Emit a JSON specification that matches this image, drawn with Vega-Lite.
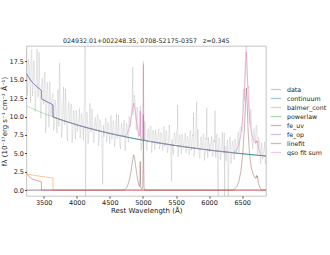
{
"$schema":"https://vega.github.io/schema/vega-lite/v6.json",
"width":239.5,"height":150,
"autosize":{"type":"none"},
"padding":{"left":26.5,"top":46,"right":64,"bottom":59},
"title":{"text":"024932.01+002248.35, 0708-52175-0357\u00a0\u00a0\u00a0z=0.345","fontSize":6.3,"font":"DejaVu Sans","fontWeight":"normal","offset":2,"color":"#222"},
"config":{
 "view":{"stroke":"#aaa","strokeWidth":0.7},
 "axis":{"labelFont":"DejaVu Sans","labelFontSize":6.5,"titleFont":"DejaVu Sans","titleFontSize":7,"titleFontWeight":"normal","tickColor":"#444","tickSize":2,"domain":false,"grid":false,"labelColor":"#222","titleColor":"#222","labelPadding":1}
},
"data":{"values":[
{"s":"data","x":3240,"y":19.25},{"s":"data","x":3260,"y":13.69},{"s":"data","x":3280,"y":16.9},{"s":"data","x":3300,"y":11.88},{"s":"data","x":3320,"y":19.14},{"s":"data","x":3340,"y":14.2},{"s":"data","x":3360,"y":17.02},{"s":"data","x":3380,"y":11.86},{"s":"data","x":3400,"y":19.2},{"s":"data","x":3420,"y":12.8},{"s":"data","x":3440,"y":14.66},{"s":"data","x":3460,"y":9.73},{"s":"data","x":3480,"y":15.27},{"s":"data","x":3500,"y":11.65},{"s":"data","x":3520,"y":16.06},{"s":"data","x":3540,"y":9.97},{"s":"data","x":3560,"y":14.12},{"s":"data","x":3580,"y":8.53},{"s":"data","x":3600,"y":13.19},{"s":"data","x":3620,"y":11.58},{"s":"data","x":3640,"y":13.15},{"s":"data","x":3660,"y":8.89},{"s":"data","x":3680,"y":11.62},{"s":"data","x":3700,"y":7.76},{"s":"data","x":3720,"y":13.7},{"s":"data","x":3740,"y":17.3},{"s":"data","x":3760,"y":12.17},{"s":"data","x":3780,"y":8.11},{"s":"data","x":3800,"y":14.05},{"s":"data","x":3820,"y":8.99},{"s":"data","x":3840,"y":10.53},{"s":"data","x":3860,"y":6.67},{"s":"data","x":3880,"y":12.01},{"s":"data","x":3900,"y":9.16},{"s":"data","x":3920,"y":11.74},{"s":"data","x":3940,"y":7.85},{"s":"data","x":3960,"y":10.51},{"s":"data","x":3980,"y":6.94},{"s":"data","x":4000,"y":9.92},{"s":"data","x":4020,"y":8.91},{"s":"data","x":4040,"y":11.1},{"s":"data","x":4060,"y":7.68},{"s":"data","x":4080,"y":9.87},{"s":"data","x":4100,"y":6.78},{"s":"data","x":4120,"y":11.53},{"s":"data","x":4126,"y":24},{"s":"data","x":4132,"y":-3},{"s":"data","x":4140,"y":8.44},{"s":"data","x":4160,"y":10.31},{"s":"data","x":4180,"y":7.07},{"s":"data","x":4200,"y":11.82},{"s":"data","x":4220,"y":7.95},{"s":"data","x":4240,"y":8.94},{"s":"data","x":4260,"y":6.43},{"s":"data","x":4280,"y":9.89},{"s":"data","x":4300,"y":8.02},{"s":"data","x":4320,"y":10.32},{"s":"data","x":4340,"y":7.15},{"s":"data","x":4360,"y":9.32},{"s":"data","x":4380,"y":6.41},{"s":"data","x":4392,"y":0.8},{"s":"data","x":4400,"y":8.84},{"s":"data","x":4420,"y":8.02},{"s":"data","x":4440,"y":9.8},{"s":"data","x":4460,"y":7.02},{"s":"data","x":4480,"y":8.8},{"s":"data","x":4500,"y":6.29},{"s":"data","x":4520,"y":10.15},{"s":"data","x":4540,"y":7.64},{"s":"data","x":4560,"y":9.16},{"s":"data","x":4580,"y":6.52},{"s":"data","x":4600,"y":10.38},{"s":"data","x":4620,"y":7.09},{"s":"data","x":4640,"y":8.09},{"s":"data","x":4660,"y":5.59},{"s":"data","x":4680,"y":9.06},{"s":"data","x":4700,"y":7.2},{"s":"data","x":4720,"y":9.57},{"s":"data","x":4740,"y":6.54},{"s":"data","x":4760,"y":8.92},{"s":"data","x":4780,"y":6.55},{"s":"data","x":4800,"y":9.69},{"s":"data","x":4820,"y":9.84},{"s":"data","x":4840,"y":12.82},{"s":"data","x":4846,"y":16.7},{"s":"data","x":4860,"y":11.02},{"s":"data","x":4880,"y":11.99},{"s":"data","x":4900,"y":8.14},{"s":"data","x":4920,"y":10.91},{"s":"data","x":4940,"y":7.6},{"s":"data","x":4955,"y":8.6},{"s":"data","x":4960,"y":11.43},{"s":"data","x":4965,"y":7.6},{"s":"data","x":4980,"y":5.99},{"s":"data","x":5000,"y":11.56},{"s":"data","x":5004,"y":12.2},{"s":"data","x":5007,"y":17.5},{"s":"data","x":5011,"y":10.8},{"s":"data","x":5015,"y":7.2},{"s":"data","x":5020,"y":6.8},{"s":"data","x":5040,"y":7.55},{"s":"data","x":5060,"y":5.42},{"s":"data","x":5080,"y":8.36},{"s":"data","x":5100,"y":6.79},{"s":"data","x":5120,"y":8.74},{"s":"data","x":5140,"y":6.07},{"s":"data","x":5160,"y":7.91},{"s":"data","x":5180,"y":5.46},{"s":"data","x":5200,"y":7.52},{"s":"data","x":5220,"y":6.83},{"s":"data","x":5240,"y":8.34},{"s":"data","x":5260,"y":6.0},{"s":"data","x":5280,"y":7.51},{"s":"data","x":5300,"y":5.39},{"s":"data","x":5320,"y":8.66},{"s":"data","x":5340,"y":6.54},{"s":"data","x":5360,"y":7.84},{"s":"data","x":5380,"y":5.61},{"s":"data","x":5400,"y":8.88},{"s":"data","x":5420,"y":6.1},{"s":"data","x":5433,"y":1.2},{"s":"data","x":5440,"y":6.95},{"s":"data","x":5460,"y":4.84},{"s":"data","x":5480,"y":7.78},{"s":"data","x":5500,"y":6.21},{"s":"data","x":5520,"y":8.17},{"s":"data","x":5525,"y":11.6},{"s":"data","x":5540,"y":5.5},{"s":"data","x":5560,"y":7.35},{"s":"data","x":5580,"y":4.9},{"s":"data","x":5600,"y":6.97},{"s":"data","x":5620,"y":6.28},{"s":"data","x":5640,"y":7.8},{"s":"data","x":5660,"y":5.46},{"s":"data","x":5680,"y":6.98},{"s":"data","x":5700,"y":4.86},{"s":"data","x":5720,"y":8.14},{"s":"data","x":5740,"y":6.02},{"s":"data","x":5760,"y":7.32},{"s":"data","x":5765,"y":10.5},{"s":"data","x":5780,"y":5.09},{"s":"data","x":5800,"y":8.37},{"s":"data","x":5812,"y":12.0},{"s":"data","x":5820,"y":5.6},{"s":"data","x":5840,"y":6.45},{"s":"data","x":5860,"y":4.34},{"s":"data","x":5880,"y":7.28},{"s":"data","x":5900,"y":5.72},{"s":"data","x":5920,"y":7.68},{"s":"data","x":5940,"y":5.02},{"s":"data","x":5960,"y":6.86},{"s":"data","x":5965,"y":11.2},{"s":"data","x":5980,"y":4.42},{"s":"data","x":6000,"y":6.49},{"s":"data","x":6020,"y":5.81},{"s":"data","x":6040,"y":7.33},{"s":"data","x":6060,"y":4.99},{"s":"data","x":6080,"y":6.51},{"s":"data","x":6090,"y":10.8},{"s":"data","x":6100,"y":4.4},{"s":"data","x":6120,"y":7.68},{"s":"data","x":6138,"y":-2},{"s":"data","x":6140,"y":5.57},{"s":"data","x":6160,"y":6.87},{"s":"data","x":6180,"y":4.65},{"s":"data","x":6200,"y":7.93},{"s":"data","x":6220,"y":5.16},{"s":"data","x":6235,"y":-2},{"s":"data","x":6240,"y":6.02},{"s":"data","x":6260,"y":3.91},{"s":"data","x":6280,"y":6.86},{"s":"data","x":6288,"y":-2},{"s":"data","x":6300,"y":5.3},{"s":"data","x":6320,"y":7.26},{"s":"data","x":6340,"y":4.6},{"s":"data","x":6360,"y":6.45},{"s":"data","x":6380,"y":4.11},{"s":"data","x":6400,"y":6.32},{"s":"data","x":6420,"y":5.78},{"s":"data","x":6440,"y":7.91},{"s":"data","x":6460,"y":6.01},{"s":"data","x":6480,"y":8.57},{"s":"data","x":6500,"y":7.97},{"s":"data","x":6520,"y":13.75},{"s":"data","x":6540,"y":14.65},{"s":"data","x":6560,"y":19.88},{"s":"data","x":6566,"y":21},{"s":"data","x":6580,"y":14.56},{"s":"data","x":6600,"y":14.14},{"s":"data","x":6620,"y":8.92},{"s":"data","x":6640,"y":8.56},{"s":"data","x":6660,"y":5.57},{"s":"data","x":6680,"y":8.39},{"s":"data","x":6700,"y":6.42},{"s":"data","x":6720,"y":8.83},{"s":"data","x":6740,"y":5.34},{"s":"data","x":6760,"y":6.61},{"s":"data","x":6780,"y":3.58},{"s":"data","x":6800,"y":5.67},{"s":"data","x":6820,"y":4.93},{"s":"data","x":6840,"y":6.59},{"s":"data","x":6860,"y":4.06},
{"s":"data","x":3250,"y":12.85},{"s":"data","x":3270,"y":17.8},{"s":"data","x":3290,"y":15.02},{"s":"data","x":3310,"y":19.01},{"s":"data","x":3330,"y":12.8},{"s":"data","x":3350,"y":17.61},{"s":"data","x":3370,"y":10.69},{"s":"data","x":3390,"y":15.53},{"s":"data","x":3410,"y":12.63},{"s":"data","x":3430,"y":18.73},{"s":"data","x":3450,"y":11.07},{"s":"data","x":3470,"y":14.3},{"s":"data","x":3490,"y":12.45},{"s":"data","x":3510,"y":15.85},{"s":"data","x":3530,"y":7.76},{"s":"data","x":3550,"y":14.67},{"s":"data","x":3570,"y":11.08},{"s":"data","x":3590,"y":14.74},{"s":"data","x":3610,"y":10.14},{"s":"data","x":3630,"y":12.78},{"s":"data","x":3650,"y":8.12},{"s":"data","x":3670,"y":12.26},{"s":"data","x":3690,"y":10.19},{"s":"data","x":3710,"y":13.53},{"s":"data","x":3730,"y":8.66},{"s":"data","x":3750,"y":12.6},{"s":"data","x":3770,"y":7.14},{"s":"data","x":3790,"y":11.08},{"s":"data","x":3810,"y":8.82},{"s":"data","x":3830,"y":13.76},{"s":"data","x":3850,"y":7.7},{"s":"data","x":3870,"y":11.24},{"s":"data","x":3890,"y":9.79},{"s":"data","x":3910,"y":11.61},{"s":"data","x":3930,"y":6.44},{"s":"data","x":3950,"y":10.86},{"s":"data","x":3970,"y":8.57},{"s":"data","x":3990,"y":10.91},{"s":"data","x":4010,"y":7.98},{"s":"data","x":4030,"y":9.68},{"s":"data","x":4050,"y":7.07},{"s":"data","x":4070,"y":10.38},{"s":"data","x":4090,"y":8.73},{"s":"data","x":4110,"y":11.4},{"s":"data","x":4150,"y":10.66},{"s":"data","x":4170,"y":6.29},{"s":"data","x":4190,"y":9.44},{"s":"data","x":4210,"y":7.85},{"s":"data","x":4230,"y":11.05},{"s":"data","x":4250,"y":7.1},{"s":"data","x":4270,"y":9.39},{"s":"data","x":4290,"y":8.44},{"s":"data","x":4310,"y":10.21},{"s":"data","x":4330,"y":6.0},{"s":"data","x":4350,"y":9.6},{"s":"data","x":4370,"y":7.73},{"s":"data","x":4410,"y":7.26},{"s":"data","x":4430,"y":8.65},{"s":"data","x":4450,"y":6.53},{"s":"data","x":4470,"y":9.21},{"s":"data","x":4490,"y":7.87},{"s":"data","x":4510,"y":10.04},{"s":"data","x":4530,"y":6.88},{"s":"data","x":4550,"y":9.44},{"s":"data","x":4570,"y":5.89},{"s":"data","x":4590,"y":8.45},{"s":"data","x":4610,"y":6.98},{"s":"data","x":4630,"y":10.19},{"s":"data","x":4650,"y":6.25},{"s":"data","x":4670,"y":8.56},{"s":"data","x":4690,"y":7.61},{"s":"data","x":4710,"y":9.43},{"s":"data","x":4730,"y":5.29},{"s":"data","x":4750,"y":9.1},{"s":"data","x":4770,"y":7.54},{"s":"data","x":4790,"y":10.05},{"s":"data","x":4810,"y":8.58},{"s":"data","x":4830,"y":11.07},{"s":"data","x":4850,"y":10.16},{"s":"data","x":4870,"y":12.95},{"s":"data","x":4890,"y":10.42},{"s":"data","x":4910,"y":11.3},{"s":"data","x":4930,"y":7.14},{"s":"data","x":4970,"y":5.41},{"s":"data","x":4990,"y":8.03},{"s":"data","x":5030,"y":9.32},{"s":"data","x":5050,"y":5.99},{"s":"data","x":5070,"y":7.94},{"s":"data","x":5090,"y":7.14},{"s":"data","x":5110,"y":8.65},{"s":"data","x":5130,"y":5.1},{"s":"data","x":5150,"y":8.15},{"s":"data","x":5170,"y":6.58},{"s":"data","x":5190,"y":8.2},{"s":"data","x":5210,"y":6.19},{"s":"data","x":5230,"y":7.37},{"s":"data","x":5250,"y":5.58},{"s":"data","x":5270,"y":7.86},{"s":"data","x":5290,"y":6.73},{"s":"data","x":5310,"y":8.57},{"s":"data","x":5330,"y":5.9},{"s":"data","x":5350,"y":8.07},{"s":"data","x":5370,"y":5.08},{"s":"data","x":5390,"y":7.25},{"s":"data","x":5410,"y":6.01},{"s":"data","x":5450,"y":5.4},{"s":"data","x":5470,"y":7.36},{"s":"data","x":5490,"y":6.56},{"s":"data","x":5510,"y":8.07},{"s":"data","x":5530,"y":4.53},{"s":"data","x":5550,"y":7.58},{"s":"data","x":5570,"y":6.02},{"s":"data","x":5590,"y":7.64},{"s":"data","x":5610,"y":5.64},{"s":"data","x":5630,"y":6.82},{"s":"data","x":5650,"y":5.04},{"s":"data","x":5670,"y":7.32},{"s":"data","x":5690,"y":6.2},{"s":"data","x":5710,"y":8.04},{"s":"data","x":5730,"y":5.38},{"s":"data","x":5750,"y":7.55},{"s":"data","x":5770,"y":4.56},{"s":"data","x":5790,"y":6.73},{"s":"data","x":5830,"y":8.23},{"s":"data","x":5850,"y":4.9},{"s":"data","x":5870,"y":6.86},{"s":"data","x":5890,"y":6.06},{"s":"data","x":5910,"y":7.58},{"s":"data","x":5930,"y":4.04},{"s":"data","x":5950,"y":7.1},{"s":"data","x":5970,"y":5.53},{"s":"data","x":5990,"y":7.16},{"s":"data","x":6010,"y":5.16},{"s":"data","x":6030,"y":6.35},{"s":"data","x":6050,"y":4.57},{"s":"data","x":6070,"y":6.85},{"s":"data","x":6110,"y":7.58},{"s":"data","x":6150,"y":7.1},{"s":"data","x":6170,"y":4.11},{"s":"data","x":6190,"y":6.29},{"s":"data","x":6210,"y":5.06},{"s":"data","x":6230,"y":7.79},{"s":"data","x":6250,"y":4.47},{"s":"data","x":6270,"y":6.43},{"s":"data","x":6310,"y":7.16},{"s":"data","x":6330,"y":3.62},{"s":"data","x":6350,"y":6.68},{"s":"data","x":6370,"y":5.17},{"s":"data","x":6390,"y":6.95},{"s":"data","x":6410,"y":4.97},{"s":"data","x":6430,"y":6.62},{"s":"data","x":6450,"y":5.13},{"s":"data","x":6470,"y":8.44},{"s":"data","x":6490,"y":8.52},{"s":"data","x":6510,"y":12.24},{"s":"data","x":6530,"y":12.14},{"s":"data","x":6550,"y":18.52},{"s":"data","x":6570,"y":16.07},{"s":"data","x":6590,"y":13.85},{"s":"data","x":6610,"y":9.51},{"s":"data","x":6630,"y":10.99},{"s":"data","x":6650,"y":6.48},{"s":"data","x":6670,"y":8.12},{"s":"data","x":6690,"y":6.86},{"s":"data","x":6710,"y":8.62},{"s":"data","x":6730,"y":4.82},{"s":"data","x":6750,"y":7.16},{"s":"data","x":6770,"y":4.91},{"s":"data","x":6790,"y":6.45},{"s":"data","x":6810,"y":4.22},{"s":"data","x":6830,"y":5.52},{"s":"data","x":6850,"y":3.59},
{"s":"continuum","x":3240,"y":15.85},{"s":"continuum","x":3260,"y":15.54},{"s":"continuum","x":3280,"y":15.25},{"s":"continuum","x":3300,"y":14.98},{"s":"continuum","x":3320,"y":14.74},{"s":"continuum","x":3340,"y":14.55},{"s":"continuum","x":3360,"y":14.37},{"s":"continuum","x":3380,"y":14.21},{"s":"continuum","x":3400,"y":14.05},{"s":"continuum","x":3420,"y":13.9},{"s":"continuum","x":3440,"y":13.76},{"s":"continuum","x":3465,"y":13.54},{"s":"continuum","x":3466,"y":12.44},{"s":"continuum","x":3500,"y":12.25},{"s":"continuum","x":3550,"y":12.02},{"s":"continuum","x":3600,"y":11.79},{"s":"continuum","x":3640,"y":11.58},{"s":"continuum","x":3641,"y":9.95},{"s":"continuum","x":3700,"y":9.76},{"s":"continuum","x":3800,"y":9.45},{"s":"continuum","x":3900,"y":9.16},{"s":"continuum","x":4000,"y":8.88},{"s":"continuum","x":4100,"y":8.62},{"s":"continuum","x":4200,"y":8.38},{"s":"continuum","x":4300,"y":8.14},{"s":"continuum","x":4400,"y":7.92},{"s":"continuum","x":4500,"y":7.71},{"s":"continuum","x":4600,"y":7.51},{"s":"continuum","x":4700,"y":7.32},{"s":"continuum","x":4800,"y":7.13},{"s":"continuum","x":4900,"y":6.96},{"s":"continuum","x":5000,"y":6.79},{"s":"continuum","x":5100,"y":6.63},{"s":"continuum","x":5200,"y":6.48},{"s":"continuum","x":5300,"y":6.33},{"s":"continuum","x":5400,"y":6.19},{"s":"continuum","x":5500,"y":6.05},{"s":"continuum","x":5600,"y":5.93},{"s":"continuum","x":5700,"y":5.8},{"s":"continuum","x":5800,"y":5.68},{"s":"continuum","x":5900,"y":5.56},{"s":"continuum","x":6000,"y":5.45},{"s":"continuum","x":6100,"y":5.34},{"s":"continuum","x":6200,"y":5.24},{"s":"continuum","x":6300,"y":5.14},{"s":"continuum","x":6400,"y":5.04},{"s":"continuum","x":6500,"y":4.95},{"s":"continuum","x":6600,"y":4.86},{"s":"continuum","x":6700,"y":4.77},{"s":"continuum","x":6800,"y":4.69},{"s":"continuum","x":6860,"y":4.64},
{"s":"powerlaw","x":3240,"y":11.45},{"s":"powerlaw","x":3300,"y":11.2},{"s":"powerlaw","x":3400,"y":10.8},{"s":"powerlaw","x":3500,"y":10.43},{"s":"powerlaw","x":3600,"y":10.09},{"s":"powerlaw","x":3700,"y":9.76},{"s":"powerlaw","x":3800,"y":9.45},{"s":"powerlaw","x":3900,"y":9.16},{"s":"powerlaw","x":4000,"y":8.88},{"s":"powerlaw","x":4100,"y":8.62},{"s":"powerlaw","x":4200,"y":8.38},{"s":"powerlaw","x":4300,"y":8.14},{"s":"powerlaw","x":4400,"y":7.92},{"s":"powerlaw","x":4500,"y":7.71},{"s":"powerlaw","x":4600,"y":7.51},{"s":"powerlaw","x":4700,"y":7.32},{"s":"powerlaw","x":4800,"y":7.13},{"s":"powerlaw","x":4900,"y":6.96},{"s":"powerlaw","x":5000,"y":6.79},{"s":"powerlaw","x":5100,"y":6.63},{"s":"powerlaw","x":5200,"y":6.48},{"s":"powerlaw","x":5300,"y":6.33},{"s":"powerlaw","x":5400,"y":6.19},{"s":"powerlaw","x":5500,"y":6.05},{"s":"powerlaw","x":5600,"y":5.93},{"s":"powerlaw","x":5700,"y":5.8},{"s":"powerlaw","x":5800,"y":5.68},{"s":"powerlaw","x":5900,"y":5.56},{"s":"powerlaw","x":6000,"y":5.45},{"s":"powerlaw","x":6100,"y":5.34},{"s":"powerlaw","x":6200,"y":5.24},{"s":"powerlaw","x":6300,"y":5.14},{"s":"powerlaw","x":6400,"y":5.04},{"s":"powerlaw","x":6500,"y":4.95},{"s":"powerlaw","x":6600,"y":4.86},{"s":"powerlaw","x":6700,"y":4.77},{"s":"powerlaw","x":6800,"y":4.69},{"s":"powerlaw","x":6860,"y":4.64},
{"s":"balmer_cont","x":3240,"y":2.2},{"s":"balmer_cont","x":3300,"y":2.1},{"s":"balmer_cont","x":3400,"y":1.95},{"s":"balmer_cont","x":3500,"y":1.82},{"s":"balmer_cont","x":3600,"y":1.7},{"s":"balmer_cont","x":3640,"y":1.63},{"s":"balmer_cont","x":3641,"y":0},{"s":"balmer_cont","x":6860,"y":0},
{"s":"fe_uv","x":3240,"y":2.2},{"s":"fe_uv","x":3260,"y":2.0},{"s":"fe_uv","x":3290,"y":1.75},{"s":"fe_uv","x":3320,"y":1.55},{"s":"fe_uv","x":3360,"y":1.4},{"s":"fe_uv","x":3400,"y":1.3},{"s":"fe_uv","x":3440,"y":1.2},{"s":"fe_uv","x":3465,"y":1.1},{"s":"fe_uv","x":3466,"y":0},{"s":"fe_uv","x":6860,"y":0},
{"s":"fe_op","x":3240,"y":0},{"s":"fe_op","x":6860,"y":0},
{"s":"linefit","x":3240,"y":0},{"s":"linefit","x":4700,"y":0},{"s":"linefit","x":4730,"y":0.1},{"s":"linefit","x":4760,"y":0.4},{"s":"linefit","x":4790,"y":1.2},{"s":"linefit","x":4815,"y":2.3},{"s":"linefit","x":4835,"y":3.5},{"s":"linefit","x":4850,"y":4.4},{"s":"linefit","x":4861,"y":4.8},{"s":"linefit","x":4872,"y":4.4},{"s":"linefit","x":4887,"y":3.5},{"s":"linefit","x":4905,"y":2.3},{"s":"linefit","x":4925,"y":1.2},{"s":"linefit","x":4945,"y":0.5},{"s":"linefit","x":4953,"y":0.8},{"s":"linefit","x":4957,"y":2.5},{"s":"linefit","x":4959,"y":3.9},{"s":"linefit","x":4962,"y":2.0},{"s":"linefit","x":4966,"y":0.3},{"s":"linefit","x":4985,"y":0.15},{"s":"linefit","x":4998,"y":0.5},{"s":"linefit","x":5003,"y":4.0},{"s":"linefit","x":5007,"y":10.3},{"s":"linefit","x":5011,"y":4.0},{"s":"linefit","x":5016,"y":0.3},{"s":"linefit","x":5030,"y":0},{"s":"linefit","x":6350,"y":0},{"s":"linefit","x":6380,"y":0.1},{"s":"linefit","x":6420,"y":0.5},{"s":"linefit","x":6450,"y":1.2},{"s":"linefit","x":6480,"y":2.5},{"s":"linefit","x":6510,"y":5.0},{"s":"linefit","x":6535,"y":8.5},{"s":"linefit","x":6550,"y":11.8},{"s":"linefit","x":6563,"y":13.9},{"s":"linefit","x":6575,"y":11.8},{"s":"linefit","x":6590,"y":8.0},{"s":"linefit","x":6610,"y":5.0},{"s":"linefit","x":6635,"y":3.2},{"s":"linefit","x":6660,"y":2.3},{"s":"linefit","x":6690,"y":1.7},{"s":"linefit","x":6705,"y":1.6},{"s":"linefit","x":6716,"y":2.0},{"s":"linefit","x":6724,"y":1.7},{"s":"linefit","x":6731,"y":1.9},{"s":"linefit","x":6745,"y":1.0},{"s":"linefit","x":6765,"y":0.4},{"s":"linefit","x":6785,"y":0.1},{"s":"linefit","x":6800,"y":0},{"s":"linefit","x":6860,"y":0},
{"s":"qso fit sum","x":3240,"y":15.85},{"s":"qso fit sum","x":3260,"y":15.54},{"s":"qso fit sum","x":3280,"y":15.25},{"s":"qso fit sum","x":3300,"y":14.98},{"s":"qso fit sum","x":3320,"y":14.74},{"s":"qso fit sum","x":3340,"y":14.55},{"s":"qso fit sum","x":3360,"y":14.37},{"s":"qso fit sum","x":3380,"y":14.21},{"s":"qso fit sum","x":3400,"y":14.05},{"s":"qso fit sum","x":3420,"y":13.9},{"s":"qso fit sum","x":3440,"y":13.76},{"s":"qso fit sum","x":3465,"y":13.54},{"s":"qso fit sum","x":3466,"y":12.44},{"s":"qso fit sum","x":3500,"y":12.25},{"s":"qso fit sum","x":3550,"y":12.02},{"s":"qso fit sum","x":3600,"y":11.79},{"s":"qso fit sum","x":3640,"y":11.58},{"s":"qso fit sum","x":3641,"y":9.95},{"s":"qso fit sum","x":3700,"y":9.76},{"s":"qso fit sum","x":3800,"y":9.45},{"s":"qso fit sum","x":3900,"y":9.16},{"s":"qso fit sum","x":4000,"y":8.88},{"s":"qso fit sum","x":4100,"y":8.62},{"s":"qso fit sum","x":4200,"y":8.38},{"s":"qso fit sum","x":4300,"y":8.14},{"s":"qso fit sum","x":4400,"y":7.92},{"s":"qso fit sum","x":4500,"y":7.71},{"s":"qso fit sum","x":4600,"y":7.51},{"s":"qso fit sum","x":4700,"y":7.32},{"s":"qso fit sum","x":4730,"y":7.36},{"s":"qso fit sum","x":4760,"y":7.61},{"s":"qso fit sum","x":4790,"y":8.35},{"s":"qso fit sum","x":4815,"y":9.41},{"s":"qso fit sum","x":4835,"y":10.57},{"s":"qso fit sum","x":4850,"y":11.45},{"s":"qso fit sum","x":4861,"y":11.83},{"s":"qso fit sum","x":4872,"y":11.41},{"s":"qso fit sum","x":4887,"y":10.48},{"s":"qso fit sum","x":4905,"y":9.25},{"s":"qso fit sum","x":4925,"y":8.12},{"s":"qso fit sum","x":4945,"y":7.38},{"s":"qso fit sum","x":4953,"y":7.67},{"s":"qso fit sum","x":4957,"y":9.36},{"s":"qso fit sum","x":4959,"y":10.76},{"s":"qso fit sum","x":4962,"y":8.86},{"s":"qso fit sum","x":4966,"y":7.15},{"s":"qso fit sum","x":4985,"y":6.97},{"s":"qso fit sum","x":4998,"y":7.29},{"s":"qso fit sum","x":5003,"y":10.78},{"s":"qso fit sum","x":5007,"y":17.08},{"s":"qso fit sum","x":5011,"y":10.77},{"s":"qso fit sum","x":5016,"y":7.06},{"s":"qso fit sum","x":5030,"y":6.74},{"s":"qso fit sum","x":5100,"y":6.63},{"s":"qso fit sum","x":5200,"y":6.48},{"s":"qso fit sum","x":5300,"y":6.33},{"s":"qso fit sum","x":5400,"y":6.19},{"s":"qso fit sum","x":5500,"y":6.05},{"s":"qso fit sum","x":5600,"y":5.93},{"s":"qso fit sum","x":5700,"y":5.8},{"s":"qso fit sum","x":5800,"y":5.68},{"s":"qso fit sum","x":5900,"y":5.56},{"s":"qso fit sum","x":6000,"y":5.45},{"s":"qso fit sum","x":6100,"y":5.34},{"s":"qso fit sum","x":6200,"y":5.24},{"s":"qso fit sum","x":6300,"y":5.14},{"s":"qso fit sum","x":6350,"y":5.09},{"s":"qso fit sum","x":6380,"y":5.16},{"s":"qso fit sum","x":6420,"y":5.52},{"s":"qso fit sum","x":6450,"y":6.19},{"s":"qso fit sum","x":6480,"y":7.47},{"s":"qso fit sum","x":6510,"y":9.94},{"s":"qso fit sum","x":6535,"y":13.42},{"s":"qso fit sum","x":6550,"y":16.7},{"s":"qso fit sum","x":6563,"y":18.79},{"s":"qso fit sum","x":6575,"y":16.68},{"s":"qso fit sum","x":6590,"y":12.87},{"s":"qso fit sum","x":6610,"y":9.85},{"s":"qso fit sum","x":6635,"y":8.03},{"s":"qso fit sum","x":6660,"y":7.11},{"s":"qso fit sum","x":6690,"y":6.48},{"s":"qso fit sum","x":6705,"y":6.37},{"s":"qso fit sum","x":6716,"y":6.75},{"s":"qso fit sum","x":6724,"y":6.45},{"s":"qso fit sum","x":6731,"y":6.64},{"s":"qso fit sum","x":6745,"y":5.73},{"s":"qso fit sum","x":6765,"y":5.11},{"s":"qso fit sum","x":6785,"y":4.8},{"s":"qso fit sum","x":6800,"y":4.69},{"s":"qso fit sum","x":6860,"y":4.64}
]},
"encoding":{
 "x":{"field":"x","type":"quantitative","scale":{"domain":[3240,6860],"nice":false,"zero":false},"axis":{"values":[3500,4000,4500,5000,5500,6000,6500],"format":"d","title":"Rest Wavelength (Å)","titlePadding":1}},
 "y":{"field":"y","type":"quantitative","scale":{"domain":[-0.8,19.6],"nice":false,"zero":false},"axis":{"values":[0,2.5,5,7.5,10,12.5,15,17.5],"format":".1f","title":"fλ (10⁻¹⁷erg s⁻¹ cm⁻² Å⁻¹)","titlePadding":2}},
 "color":{"field":"s","type":"nominal","scale":{"domain":["data","continuum","balmer_cont","powerlaw","fe_uv","fe_op","linefit","qso fit sum"],"range":["#808080","#1f77b4","#ff7f0e","#2ca02c","#d62728","#9467bd","#8c564b","#e377c2"]},
  "legend":{"title":null,"orient":"none","legendX":243.5,"legendY":40,"padding":0,"symbolType":"stroke","symbolSize":110,"symbolStrokeWidth":1.3,"clipHeight":7,"rowPadding":2,"labelOffset":5,"labelFont":"DejaVu Sans","labelFontSize":6.3,"labelColor":"#222",
   "encode":{"symbols":{"update":{"opacity":{"signal":"datum.value === 'continuum' ? 1 : (datum.value === 'data' ? 0.3 : 0.5)"}}}}}}
},
"layer":[
 {"transform":[{"filter":"datum.s === 'data'"}],"mark":{"type":"line","strokeWidth":0.5,"opacity":0.4,"clip":true}},
 {"transform":[{"filter":"datum.s === 'continuum'"}],"mark":{"type":"line","strokeWidth":1,"opacity":0.8,"clip":true}},
 {"transform":[{"filter":"datum.s === 'balmer_cont'"}],"mark":{"type":"line","strokeWidth":0.9,"opacity":0.5,"clip":true}},
 {"transform":[{"filter":"datum.s === 'powerlaw'"}],"mark":{"type":"line","strokeWidth":1,"opacity":0.3,"clip":true}},
 {"transform":[{"filter":"datum.s === 'fe_uv'"}],"mark":{"type":"line","strokeWidth":0.9,"opacity":0.5,"clip":true}},
 {"transform":[{"filter":"datum.s === 'fe_op'"}],"mark":{"type":"line","strokeWidth":0.9,"opacity":0.5,"clip":true}},
 {"transform":[{"filter":"datum.s === 'linefit'"}],"mark":{"type":"line","strokeWidth":0.9,"opacity":0.5,"clip":true}},
 {"transform":[{"filter":"datum.s === 'qso fit sum'"}],"mark":{"type":"line","strokeWidth":1,"opacity":0.5,"clip":true}}
]
}
